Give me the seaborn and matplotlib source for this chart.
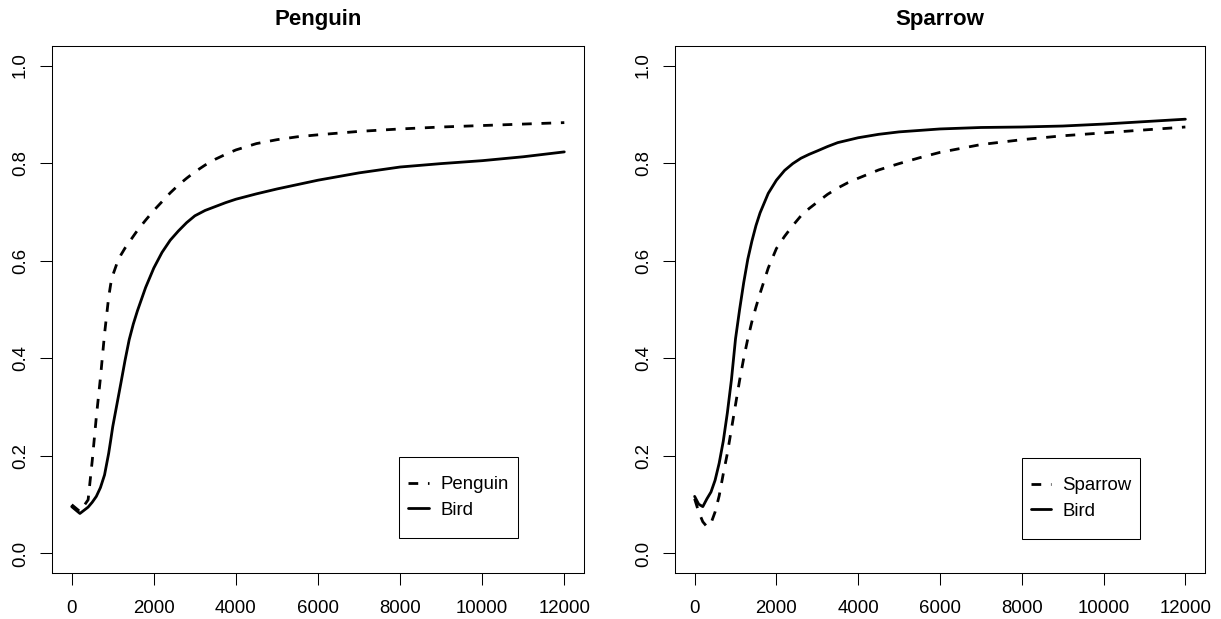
import numpy as np
import pandas as pd
import matplotlib
matplotlib.use("Agg")
import matplotlib.pyplot as plt
import seaborn as sns
from matplotlib.lines import Line2D
from matplotlib.patches import Rectangle

# ---------------- data ----------------
x_left = [0, 200, 400, 500, 600, 700, 800, 900, 950, 1000, 1100, 1200, 1300, 1400,
          1500, 1600, 1800, 2000, 2200, 2400, 2600, 2800, 3000, 3250, 3500, 3750,
          4000, 4500, 5000, 5500, 6000, 7000, 8000, 9000, 10000, 11000, 12000]
penguin = [0.100, 0.086, 0.110, 0.190, 0.280, 0.360, 0.450, 0.525, 0.552, 0.570,
           0.594, 0.612, 0.626, 0.638, 0.650, 0.662, 0.683, 0.703, 0.721, 0.739,
           0.755, 0.769, 0.782, 0.796, 0.808, 0.818, 0.827, 0.840, 0.848, 0.854,
           0.858, 0.865, 0.870, 0.874, 0.877, 0.880, 0.883]
bird_left = [0.096, 0.082, 0.095, 0.105, 0.117, 0.135, 0.161, 0.205, 0.232, 0.260,
             0.305, 0.350, 0.396, 0.438, 0.470, 0.497, 0.545, 0.585, 0.617, 0.642,
             0.661, 0.678, 0.692, 0.703, 0.711, 0.719, 0.726, 0.737, 0.747, 0.756,
             0.765, 0.780, 0.792, 0.799, 0.805, 0.813, 0.823]

x_right = [0, 100, 200, 300, 400, 500, 600, 700, 800, 900, 1000, 1100, 1200, 1300,
           1400, 1500, 1600, 1800, 2000, 2200, 2400, 2600, 2800, 3000, 3250, 3500,
           3750, 4000, 4500, 5000, 5500, 6000, 7000, 8000, 9000, 10000, 11000, 12000]
sparrow = [0.112, 0.085, 0.065, 0.055, 0.062, 0.085, 0.118, 0.163, 0.205, 0.255,
           0.305, 0.355, 0.400, 0.440, 0.475, 0.505, 0.533, 0.585, 0.625, 0.650,
           0.672, 0.692, 0.707, 0.720, 0.736, 0.749, 0.760, 0.769, 0.786, 0.799,
           0.811, 0.822, 0.838, 0.848, 0.856, 0.862, 0.868, 0.874]
bird_right = [0.117, 0.101, 0.096, 0.112, 0.126, 0.150, 0.185, 0.230, 0.288, 0.356,
              0.440, 0.500, 0.555, 0.603, 0.640, 0.672, 0.698, 0.738, 0.765, 0.785,
              0.799, 0.810, 0.818, 0.825, 0.834, 0.842, 0.847, 0.852, 0.859, 0.864,
              0.867, 0.870, 0.873, 0.874, 0.876, 0.880, 0.885, 0.890]

xtick_vals = [0, 2000, 4000, 6000, 8000, 10000, 12000]
xtick_labels = ["0", "2000", "4000", "6000", "8000", "10000", "12000"]
ytick_vals = [0.0, 0.2, 0.4, 0.6, 0.8, 1.0]
ytick_labels = ["0.0", "0.2", "0.4", "0.6", "0.8", "1.0"]

titles = ["Penguin", "Sparrow"]
# --------------------------------------

sns.set_theme(style="ticks")
plt.rcParams['font.family'] = ['Liberation Sans', 'DejaVu Sans']
plt.rcParams['text.color'] = 'black'

FS = 13.4
DASH = (0, (3.5, 3.5))

fig = plt.figure(figsize=(12.21, 6.19), dpi=100)
W, H = 1221, 619
ax1 = fig.add_axes([52 / W, 46 / H, 532 / W, 527 / H])
ax2 = fig.add_axes([675 / W, 46 / H, 530 / W, 527 / H])

panels = [
    (ax1, x_left, penguin, bird_left, titles[0], (0.652, 0.0665, 0.224, 0.154)),
    (ax2, x_right, sparrow, bird_right, titles[1], (0.6547, 0.0646, 0.2226, 0.154)),
]

for ax, xs, ys_dash, ys_solid, title, box in panels:
    df = pd.DataFrame({"x": xs, "animal": ys_dash, "bird": ys_solid})
    sns.lineplot(data=df, x="x", y="animal", ax=ax, color="black",
                 linewidth=2, legend=False)
    ax.lines[-1].set_linestyle(DASH)
    sns.lineplot(data=df, x="x", y="bird", ax=ax, color="black",
                 linewidth=2, legend=False)
    for ln in ax.lines:
        ln.set_solid_joinstyle("round")
        ln.set_dash_joinstyle("round")
    ax.set_xlabel("")
    ax.set_ylabel("")
    ax.set_xlim(-480, 12480)
    ax.set_ylim(-0.04, 1.04)
    ax.set_xticks(xtick_vals, labels=xtick_labels)
    ax.set_yticks(ytick_vals, labels=ytick_labels)
    ax.tick_params(axis="both", direction="out", length=8.6, width=0.75,
                   color="black", labelsize=FS, labelcolor="black",
                   bottom=True, left=True)
    ax.tick_params(axis="x", pad=11)
    ax.tick_params(axis="y", pad=8, labelrotation=90)
    for lab in ax.get_yticklabels():
        lab.set_va("center")
    for sp in ax.spines.values():
        sp.set_visible(True)
        sp.set_color("black")
        sp.set_linewidth(0.75)
    ax.set_title(title, fontweight="bold", fontsize=16, pad=15, color="black")

    bx, by, bw, bh = box
    ax.add_patch(Rectangle((bx, by), bw, bh, transform=ax.transAxes,
                           fill=False, ec="black", lw=0.75, zorder=5))
    handles = [Line2D([], [], color="black", lw=2, linestyle=DASH),
               Line2D([], [], color="black", lw=2)]
    leg = ax.legend(handles, [title, "Bird"], loc="center",
                    bbox_to_anchor=(bx + bw / 2, by + bh / 2),
                    bbox_transform=ax.transAxes, frameon=False, fontsize=FS,
                    handlelength=1.1, handletextpad=0.6, labelspacing=0.45,
                    borderpad=0, borderaxespad=0)
    for t in leg.get_texts():
        t.set_color("black")

fig.savefig("out.png", dpi=100, facecolor="white")
